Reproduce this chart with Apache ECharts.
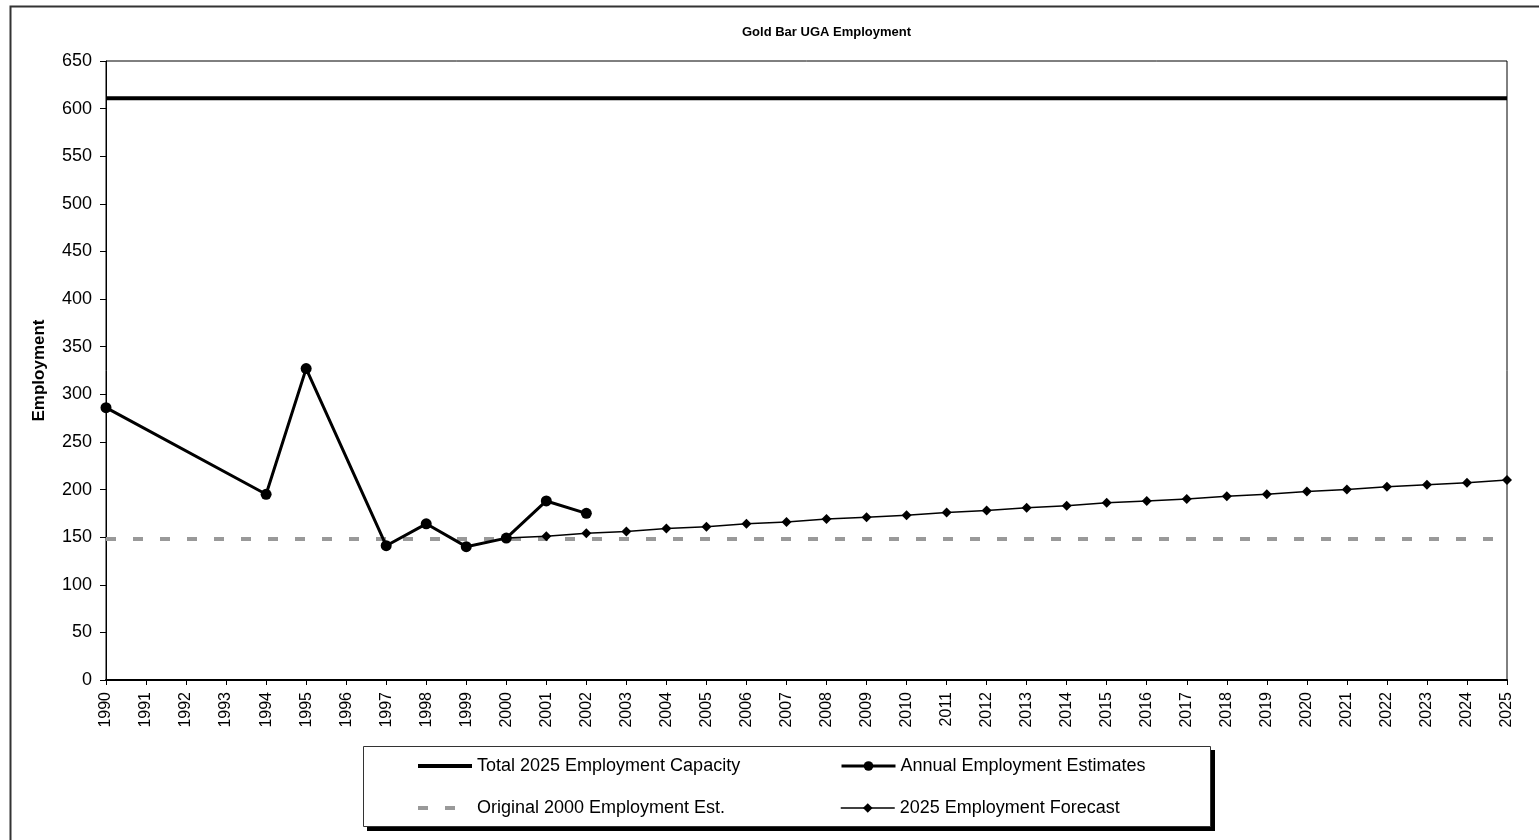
<!DOCTYPE html>
<html>
<head>
<meta charset="utf-8">
<title>Gold Bar UGA Employment</title>
<script src="https://cdn.jsdelivr.net/npm/echarts@6/dist/echarts.min.js"></script>
<style>
  html, body { margin: 0; padding: 0; background: #fff; }
  #chart { width: 1539px; height: 840px; }
</style>
</head>
<body>
<div id="chart"></div>
<script>
// Years along the horizontal axis
const years = ['1990','1991','1992','1993','1994','1995','1996','1997','1998','1999',
  '2000','2001','2002','2003','2004','2005','2006','2007','2008','2009',
  '2010','2011','2012','2013','2014','2015','2016','2017','2018','2019',
  '2020','2021','2022','2023','2024','2025'];

// Total 2025 employment capacity (flat reference line)
const capacityYears = ['1990', '2025'];
const capacityValues = [611, 611];

// Original 2000 employment estimate (flat reference line)
const originalYears = ['1990', '2025'];
const originalValues = [148, 148];

// Annual employment estimates (years without an estimate are skipped)
const annualYears = ['1990','1994','1995','1997','1998','1999','2000','2001','2002'];
const annualValues = [286, 195, 327, 141, 164, 140, 149, 188, 175];

// 2025 employment forecast
const forecastYears = ['2000','2001','2002','2003','2004','2005','2006','2007','2008','2009',
  '2010','2011','2012','2013','2014','2015','2016','2017','2018','2019',
  '2020','2021','2022','2023','2024','2025'];
const forecastValues = [149, 151, 154, 156, 159, 161, 164, 166, 169, 171,
  173, 176, 178, 181, 183, 186, 188, 190, 193, 195,
  198, 200, 203, 205, 207, 210];

// Value axis ticks
const yMin = 0, yMax = 650, yStep = 50;

const FONT = '"Liberation Sans", Arial, sans-serif';
const pairs = (xs, vs) => xs.map((x, i) => [x, vs[i]]);

const chart = echarts.init(document.getElementById('chart'), null, { renderer: 'canvas' });

const legendText = { fontFamily: FONT, fontSize: 18, color: '#000' };
// One legend block per entry so the two columns line up
function legendAt(item, left, top, itemHeight) {
  return {
    data: [item], left: left, top: top, orient: 'horizontal',
    itemWidth: 54, itemHeight: itemHeight, itemGap: 0, padding: 0,
    selectedMode: false, textStyle: legendText
  };
}

const lineSolid = { color: '#000', width: 4 };
const lineDashed = { color: '#999', width: 4, type: [10, 17], dashOffset: 0 };
const lineAnnual = { color: '#000', width: 3 };
const lineForecast = { color: '#000', width: 1.5 };

chart.setOption({
  backgroundColor: '#fff',
  animation: false,
  title: {
    text: 'Gold Bar UGA Employment',
    left: 737, top: 21,
    textStyle: { fontFamily: FONT, fontSize: 13, fontWeight: 'bold', color: '#000' }
  },
  graphic: [
    { type: 'rect', z: -10, shape: { x: 10.5, y: 6.5, width: 1545, height: 860 },
      style: { fill: 'none', stroke: '#333', lineWidth: 2 } },
    // legend frame: drop shadow, then the white box on top
    { type: 'rect', z: 0, shape: { x: 367, y: 750, width: 848, height: 81 },
      style: { fill: '#000' } },
    { type: 'rect', z: 1, shape: { x: 363.5, y: 746.5, width: 847, height: 80 },
      style: { fill: '#fff', stroke: '#333', lineWidth: 1 } }
  ],
  legend: [
    legendAt({ name: 'Total 2025 Employment Capacity', itemStyle: { opacity: 0 }, lineStyle: lineSolid }, 416, 757, 12),
    legendAt({ name: 'Annual Employment Estimates', lineStyle: lineAnnual }, 840, 757, 12),
    legendAt({ name: 'Original 2000 Employment Est.', itemStyle: { opacity: 0 }, lineStyle: lineDashed }, 416, 799, 12),
    legendAt({ name: '2025 Employment Forecast', lineStyle: lineForecast }, 840, 799, 12)
  ],
  grid: { left: 106, right: 32, top: 61, bottom: 160, show: true,
          borderColor: '#000', borderWidth: 1, backgroundColor: 'transparent' },
  xAxis: {
    type: 'category', data: years, boundaryGap: false,
    axisLine: { lineStyle: { color: '#000', width: 2 } },
    axisTick: { show: true, inside: false, length: 5, alignWithLabel: true, lineStyle: { color: '#000', width: 1 } },
    axisLabel: { rotate: 90, interval: 0, margin: 12, fontFamily: FONT, fontSize: 16, color: '#000' },
    splitLine: { show: false }
  },
  yAxis: {
    type: 'value', min: yMin, max: yMax, interval: yStep,
    name: 'Employment', nameLocation: 'middle', nameGap: 58,
    nameTextStyle: { fontFamily: FONT, fontSize: 17, fontWeight: 'bold', color: '#000' },
    axisLine: { show: true, lineStyle: { color: '#000', width: 1 } },
    axisTick: { show: true, inside: false, length: 6, lineStyle: { color: '#000', width: 1 } },
    axisLabel: { margin: 14, fontFamily: FONT, fontSize: 18, color: '#000' },
    splitLine: { show: false }
  },
  series: [
    {
      name: 'Total 2025 Employment Capacity', type: 'line',
      data: pairs(capacityYears, capacityValues),
      symbol: 'none', z: 3,
      lineStyle: lineSolid, itemStyle: { color: '#000' }
    },
    {
      name: 'Original 2000 Employment Est.', type: 'line',
      data: pairs(originalYears, originalValues),
      symbol: 'none', z: 2,
      lineStyle: lineDashed, itemStyle: { color: '#999' }
    },
    {
      name: 'Annual Employment Estimates', type: 'line',
      data: pairs(annualYears, annualValues),
      symbol: 'circle', symbolSize: 11, z: 5,
      lineStyle: lineAnnual, itemStyle: { color: '#000' }
    },
    {
      name: '2025 Employment Forecast', type: 'line',
      data: pairs(forecastYears, forecastValues),
      symbol: 'diamond', symbolSize: 10, z: 4,
      lineStyle: lineForecast, itemStyle: { color: '#000' }
    }
  ]
});
</script>
</body>
</html>
